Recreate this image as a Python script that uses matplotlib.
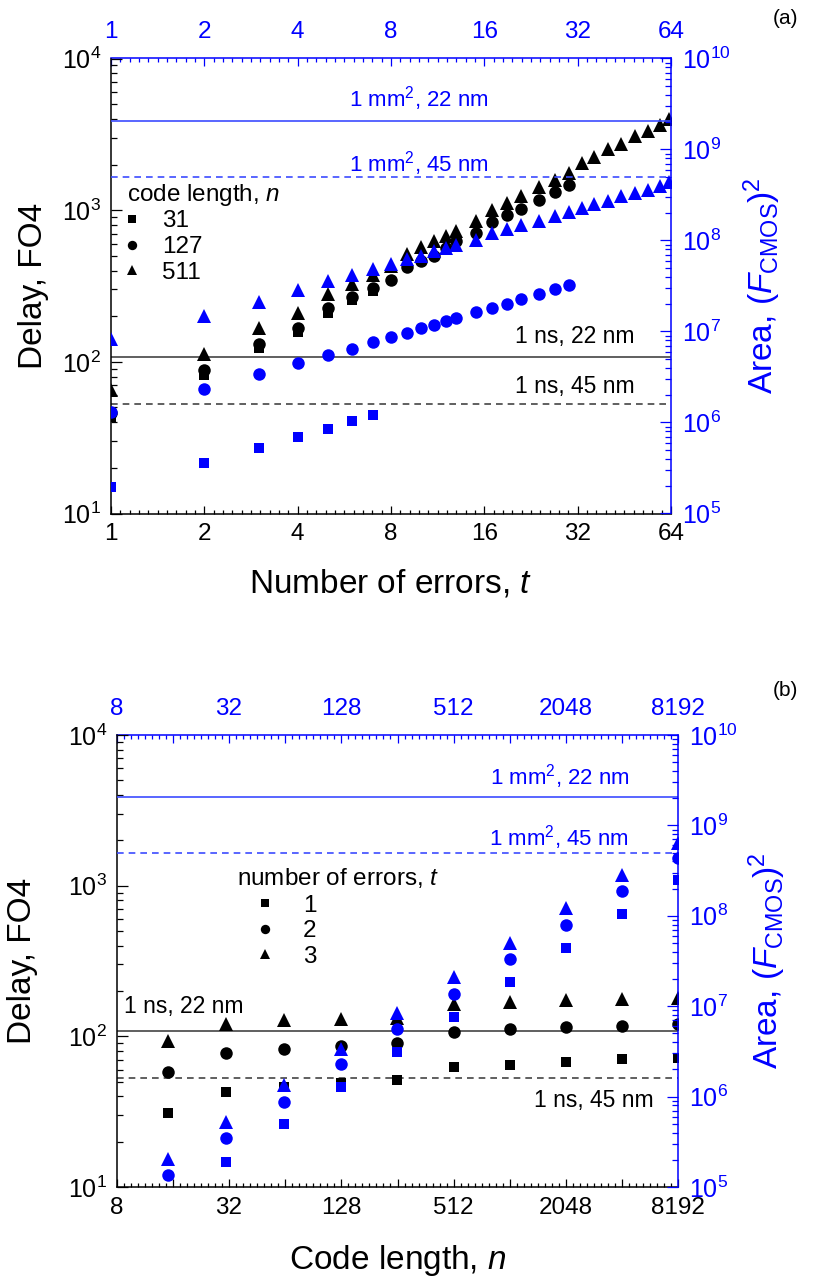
import numpy as np
import matplotlib
matplotlib.use('Agg')
import matplotlib.pyplot as plt
from matplotlib.lines import Line2D
from matplotlib.ticker import FixedLocator, FuncFormatter, LogLocator, NullFormatter

plt.rcParams['font.family'] = ['Liberation Sans', 'DejaVu Sans']
plt.rcParams['mathtext.fontset'] = 'custom'
plt.rcParams['mathtext.rm'] = 'Liberation Sans'
plt.rcParams['mathtext.it'] = 'Liberation Sans:italic'
plt.rcParams['mathtext.bf'] = 'Liberation Sans:bold'
plt.rcParams['axes.linewidth'] = 1.1

BLUE = '#0000ff'
LINEBLUE = '#3c4cff'
LINEGRAY = '#444444'

# limits drawn as horizontal lines (same in both panels)
ns_22, ns_45 = 108, 53            # 1 ns expressed in FO4 delays
mm2_22, mm2_45 = 2.07e9, 4.94e8   # 1 mm^2 expressed in F^2

# ---- panel (a): versus number of errors t ----
t31 = [1, 2, 3, 4, 5, 6, 7]
delay31 = [43, 82, 123, 158, 209, 254, 291]
area31 = [1.97e5, 3.6e5, 5.3e5, 7.0e5, 8.5e5, 1.03e6, 1.2e6]

t127 = [1, 2, 3, 4, 5, 6, 7, 8, 9, 10, 11, 12, 13, 15, 17, 19, 21, 24, 27, 30]
delay127 = [46, 88, 132, 166, 226, 267, 306, 347, 420, 459, 501, 564, 624, 702,
            834, 936, 1025, 1164, 1315, 1458]
area127 = [1.30e6, 2.36e6, 3.4e6, 4.46e6, 5.5e6, 6.5e6, 7.6e6, 8.8e6, 9.7e6, 1.08e7,
           1.18e7, 1.31e7, 1.40e7, 1.63e7, 1.80e7, 2.01e7, 2.26e7, 2.57e7, 2.92e7, 3.21e7]

t511 = [1, 2, 3, 4, 5, 6, 7, 8, 9, 10, 11, 12, 13, 15, 17, 19, 21, 24, 27, 30,
        33, 36, 40, 44, 49, 54, 59, 63]
delay511 = [65, 112, 168, 211, 279, 326, 375, 426, 516, 569, 624, 673, 726, 845,
            1000, 1119, 1239, 1420, 1580, 1758, 2060, 2254, 2525, 2733, 3099, 3350, 3653, 3963]
area511 = [8.2e6, 1.48e7, 2.13e7, 2.87e7, 3.55e7, 4.2e7, 4.85e7, 5.56e7, 6.27e7, 6.7e7,
           7.6e7, 8.3e7, 9.0e7, 1.02e8, 1.21e8, 1.34e8, 1.47e8, 1.63e8, 1.85e8, 2.05e8,
           2.29e8, 2.49e8, 2.75e8, 3.07e8, 3.35e8, 3.58e8, 3.96e8, 4.39e8]

# ---- panel (b): versus code length n ----
n_len = [15, 31, 63, 127, 255, 511, 1023, 2047, 4095, 8191]
delay_t1 = [31, 43, 46, 49, 51, 63, 65, 68, 70.5, 72]
delay_t2 = [58, 77, 82, 86, 90, 107, 112, 116, 118, 121]
delay_t3 = [93, 121, 128, 131, 132, 163, 169, 173, 178, 180]
area_t1 = [7.5e4, 1.90e5, 4.95e5, 1.28e6, 3.15e6, 7.66e6, 1.86e7, 4.43e7, 1.05e8, 2.5e8]
area_t2 = [1.36e5, 3.45e5, 8.8e5, 2.28e6, 5.65e6, 1.38e7, 3.34e7, 8.0e7, 1.90e8, 4.35e8]
area_t3 = [2.04e5, 5.26e5, 1.34e6, 3.4e6, 8.5e6, 2.12e7, 5.0e7, 1.22e8, 2.85e8, 6.4e8]

ticks_a = [1, 2, 4, 8, 16, 32, 64]
labels_a = [1, 2, 4, 8, 16, 32, 64]
ticks_b = [8, 16, 32, 64, 128, 256, 512, 1024, 2048, 4096, 8192]
labels_b = [8, 32, 128, 512, 2048, 8192]

MS = {'s': 7.5, 'o': 9, '^': 9.5}


def make_panel(rect, xlim, xmaj, xlab, nsub):
    ax = fig.add_axes(rect)
    ax.set_xscale('log', base=2)
    ax.set_yscale('log')
    ax.set_xlim(*xlim)
    ax.set_ylim(10, 1e4)
    ax2 = ax.twinx()
    ax2.set_yscale('log')
    ax2.set_ylim(1e5, 1e10)

    minors = [m * 2 ** (j / nsub) for m in xmaj[:-1] for j in range(1, nsub)]
    fmt = FuncFormatter(lambda v, p: f'{v:g}' if int(round(v)) in xlab else '')
    ax.xaxis.set_major_locator(FixedLocator(xmaj))
    ax.xaxis.set_minor_locator(FixedLocator(minors))
    ax.xaxis.set_major_formatter(fmt)
    ax.xaxis.set_minor_formatter(NullFormatter())

    top = ax.secondary_xaxis('top')
    top.xaxis.set_major_locator(FixedLocator(xmaj))
    top.xaxis.set_minor_locator(FixedLocator(minors))
    top.xaxis.set_major_formatter(fmt)
    top.xaxis.set_minor_formatter(NullFormatter())
    top.tick_params(which='both', direction='in', colors=BLUE, labelsize=17.5, pad=11, width=0.9)
    top.tick_params(which='major', length=6)
    top.tick_params(which='minor', length=3)
    top.spines['top'].set_color(BLUE)

    for a in (ax, ax2):
        a.yaxis.set_minor_locator(LogLocator(base=10, subs=np.arange(2, 10), numticks=30))
        a.yaxis.set_minor_formatter(NullFormatter())
        a.yaxis.set_major_locator(LogLocator(base=10, numticks=30))

    ax.spines['top'].set_visible(False)
    ax.spines['right'].set_visible(False)
    for s in ('left', 'top', 'bottom'):
        ax2.spines[s].set_visible(False)
    ax2.spines['right'].set_color(BLUE)

    ax.tick_params(axis='x', which='both', direction='in', top=False, labelsize=17.5, pad=7, width=0.9)
    ax.tick_params(axis='x', which='major', length=6)
    ax.tick_params(axis='x', which='minor', length=3)
    ax.tick_params(axis='y', which='both', direction='in', right=False, labelsize=18, pad=7, width=0.9)
    ax.tick_params(axis='y', which='major', length=8)
    ax.tick_params(axis='y', which='minor', length=4.5)
    ax2.tick_params(axis='y', which='both', direction='in', colors=BLUE, labelsize=18, pad=8, width=0.9)
    ax2.tick_params(axis='y', which='major', length=8)
    ax2.tick_params(axis='y', which='minor', length=4.5)

    ax.axhline(ns_22, color=LINEGRAY, lw=1.2)
    ax.axhline(ns_45, color=LINEGRAY, lw=1.2, ls=(0, (4, 3)))
    ax2.axhline(mm2_22, color=LINEBLUE, lw=1.2)
    ax2.axhline(mm2_45, color=LINEBLUE, lw=1.2, ls=(0, (4, 3)))

    ax.set_ylabel('Delay, FO4', fontsize=24)
    ax2.set_ylabel(r'Area, $(\mathit{F}_{\mathrm{CMOS}})^2$', fontsize=24, color=BLUE)
    return ax, ax2


fig = plt.figure(figsize=(8.15, 12.85), dpi=100)

# ---------- panel (a) ----------
axA, axA2 = make_panel([111 / 815, 1 - 513.5 / 1285, 560 / 815, 455 / 1285],
                       (1, 64), ticks_a, labels_a, 10)
for tt, d, ar, mk in [(t31, delay31, area31, 's'), (t127, delay127, area127, 'o'),
                      (t511, delay511, area511, '^')]:
    axA.plot(tt, d, ls='none', marker=mk, ms=MS[mk], color='k', mew=0)
    axA2.plot(tt, ar, ls='none', marker=mk, ms=MS[mk], color=BLUE, mew=0)

axA.set_xlabel('Number of errors, $t$', fontsize=24)
axA.xaxis.set_label_coords(0.5, -0.118)
axA.yaxis.set_label_coords(-0.11, 0.5)
axA2.yaxis.set_label_coords(1.126, 0.5)

axA2.text(0.55, 0.913, '1 mm$^2$, 22 nm', transform=axA2.transAxes, ha='center', va='center',
          color=BLUE, fontsize=16)
axA2.text(0.55, 0.770, '1 mm$^2$, 45 nm', transform=axA2.transAxes, ha='center', va='center',
          color=BLUE, fontsize=16)
axA2.text(0.829, 0.389, '1 ns, 22 nm', transform=axA2.transAxes, ha='center', va='center',
          color='k', fontsize=16.5)
axA2.text(0.829, 0.280, '1 ns, 45 nm', transform=axA2.transAxes, ha='center', va='center',
          color='k', fontsize=16.5)

handles = [Line2D([], [], ls='none', marker=m, color='k', ms=MS[m] * 0.75, mew=0) for m in 'so^']
axA2.text(0.029, 0.700, 'code length, $n$', transform=axA2.transAxes, ha='left', va='center',
          fontsize=17.5)
axA2.legend(handles, ['31', '127', '511'], loc='upper left', bbox_to_anchor=(0.021, 0.666),
            frameon=False, fontsize=17.5, handlelength=0.8, handletextpad=0.83,
            labelspacing=0.15, borderpad=0, borderaxespad=0)

# ---------- panel (b) ----------
axB, axB2 = make_panel([116.7 / 815, 1 - 1187 / 1285, 561.6 / 815, 452 / 1285],
                       (8, 8192), ticks_b, labels_b, 8)
for d, ar, mk in [(delay_t1, area_t1, 's'), (delay_t2, area_t2, 'o'), (delay_t3, area_t3, '^')]:
    axB.plot(n_len, d, ls='none', marker=mk, ms=MS[mk], color='k', mew=0)
    axB2.plot(n_len, ar, ls='none', marker=mk, ms=MS[mk], color=BLUE, mew=0)

axB.set_xlabel('Code length, $n$', fontsize=24)
axB.xaxis.set_label_coords(0.5, -0.125)
axB.yaxis.set_label_coords(-0.14, 0.5)
axB2.yaxis.set_label_coords(1.122, 0.5)

axB2.text(0.789, 0.908, '1 mm$^2$, 22 nm', transform=axB2.transAxes, ha='center', va='center',
          color=BLUE, fontsize=16)
axB2.text(0.788, 0.774, '1 mm$^2$, 45 nm', transform=axB2.transAxes, ha='center', va='center',
          color=BLUE, fontsize=16)
axB2.text(0.120, 0.400, '1 ns, 22 nm', transform=axB2.transAxes, ha='center', va='center',
          color='k', fontsize=16.5)
axB2.text(0.850, 0.192, '1 ns, 45 nm', transform=axB2.transAxes, ha='center', va='center',
          color='k', fontsize=16.5)

axB2.text(0.214, 0.684, 'number of errors, $t$', transform=axB2.transAxes, ha='left', va='center',
          fontsize=17.5)
axB2.legend(handles, ['1', '2', '3'], loc='upper left', bbox_to_anchor=(0.247, 0.647),
            frameon=False, fontsize=17.5, handlelength=0.8, handletextpad=1.16,
            labelspacing=0.15, borderpad=0, borderaxespad=0)

fig.text(785 / 815, 1 - 18 / 1285, '(a)', ha='center', va='center', fontsize=15)
fig.text(785 / 815, 1 - 690 / 1285, '(b)', ha='center', va='center', fontsize=15)

fig.savefig('out.png', dpi=100)
